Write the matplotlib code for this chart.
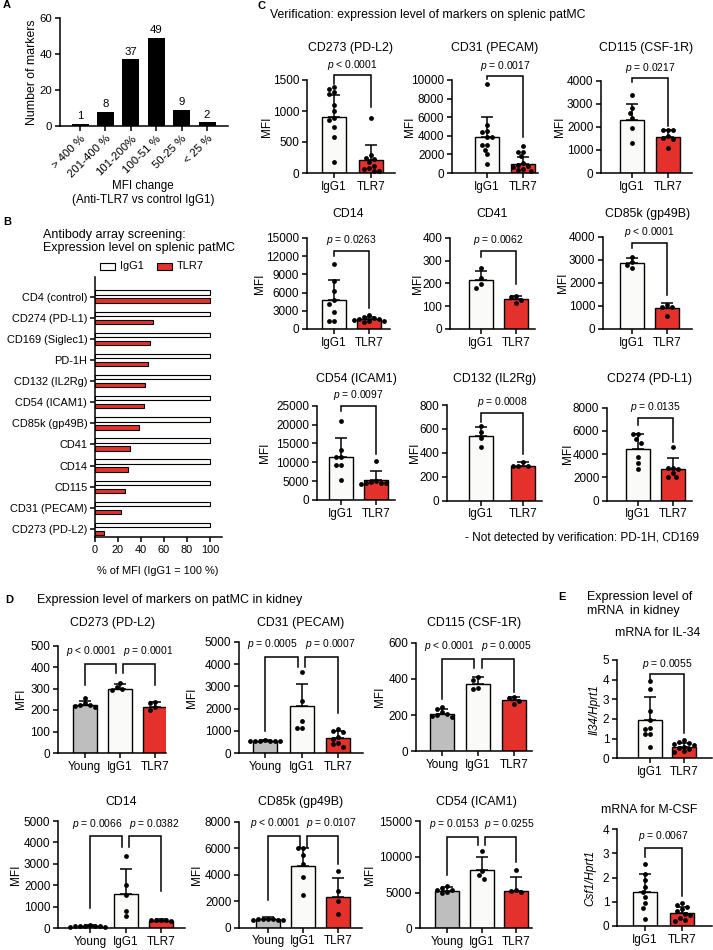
import numpy as np
import matplotlib
matplotlib.use('Agg')
import matplotlib.pyplot as plt
from matplotlib.patches import Rectangle

plt.rcParams['font.family'] = ['Liberation Sans', 'DejaVu Sans']
plt.rcParams['mathtext.fontset'] = 'custom'
plt.rcParams['mathtext.rm'] = 'Liberation Sans'
plt.rcParams['mathtext.it'] = 'Liberation Sans:italic'
plt.rcParams['axes.linewidth'] = 1.1

# ======================= DATA =======================
# Panel A
A_CATS = ['> 400 %', '201-400 %', '101-200%', '100-51 %', '50-25 %', '< 25 %']
A_COUNTS = [1, 8, 37, 49, 9, 2]

# Panel B
B_MARKERS = ['CD4 (control)', 'CD274 (PD-L1)', 'CD169 (Siglec1)', 'PD-1H', 'CD132 (IL2Rg)',
             'CD54 (ICAM1)', 'CD85k (gp49B)', 'CD41', 'CD14', 'CD115', 'CD31 (PECAM)',
             'CD273 (PD-L2)']
B_IGG1 = [100, 100, 100, 100, 100, 100, 100, 100, 100, 100, 100, 100]
B_TLR7 = [100, 50, 48, 46.5, 43.5, 42.3, 38.6, 30.4, 28.4, 26.4, 22.3, 7.5]

# Panel C (splenic patMC)
C_GROUPS = ['IgG1', 'TLR7']
C_CD273_MEAN = [900, 214]
C_CD273_SD = [359, 241]
C_CD273_IGG1 = [1380, 1350, 1300, 1270, 1100, 1000, 890, 860, 750, 580, 170]
C_CD273_TLR7 = [880, 290, 250, 220, 180, 120, 80, 60, 40, 30]

C_CD31_MEAN = [3820, 1000]
C_CD31_SD = [2250, 714]
C_CD31_IGG1 = [9600, 5200, 4500, 4400, 3900, 3900, 3000, 3000, 2500, 2000, 1000]
C_CD31_TLR7 = [2950, 2300, 2300, 1800, 1100, 900, 700, 600, 400, 300, 200]

C_CD115_MEAN = [2273, 1554]
C_CD115_SD = [720, 317]
C_CD115_IGG1 = [3380, 2800, 2600, 2370, 1940, 1300]
C_CD115_TLR7 = [1850, 1850, 1850, 1600, 1500, 1450, 1080]

C_CD14_MEAN = [4800, 1600]
C_CD14_SD = [3300, 440]
C_CD14_IGG1 = [10700, 7830, 6340, 4800, 4140, 2760, 1320, 1320]
C_CD14_TLR7 = [2300, 2000, 1800, 1700, 1600, 1500, 1400, 1300, 1100]

C_CD41_MEAN = [213, 130]
C_CD41_SD = [39, 16]
C_CD41_IGG1 = [266, 222, 196, 181]
C_CD41_TLR7 = [143, 141, 125, 112]

C_CD85K_MEAN = [2859, 895]
C_CD85K_SD = [202, 231]
C_CD85K_IGG1 = [3130, 2900, 2770, 2640]
C_CD85K_TLR7 = [1050, 970, 970, 580]

C_CD54_MEAN = [11484, 5300]
C_CD54_SD = [4947, 2386]
C_CD54_IGG1 = [21000, 13200, 11500, 11500, 9300, 9300, 5300]
C_CD54_TLR7 = [10300, 5000, 4800, 4600, 4500, 4400, 4300]

C_CD132_MEAN = [541, 293]
C_CD132_SD = [72, 33]
C_CD132_IGG1 = [624, 575, 521, 446]
C_CD132_TLR7 = [320, 290, 288, 286]

C_CD274_MEAN = [4444, 2753]
C_CD274_SD = [1319, 946]
C_CD274_IGG1 = [5700, 5700, 5300, 5000, 3800, 3200, 2700]
C_CD274_TLR7 = [4640, 2840, 2840, 2700, 2400, 2060, 2000]

# Panel D (kidney patMC)
D_GROUPS = ['Young', 'IgG1', 'TLR7']
D_CD273_MEAN = [221, 300, 216]
D_CD273_SD = [19, 23, 20]
D_CD273_PTS = [[255, 232, 225, 222, 218, 215], [325, 305, 298, 292], [238, 232, 213, 200]]

D_CD31_MEAN = [560, 2110, 690]
D_CD31_SD = [40, 990, 330]
D_CD31_PTS = [[580, 560, 555, 550, 545, 540, 535], [3650, 2330, 1450, 1130, 1130],
              [1100, 1000, 950, 750, 650, 450, 400, 300]]

D_CD115_MEAN = [206, 372, 283]
D_CD115_SD = [27, 40, 15]
D_CD115_PTS = [[245, 232, 215, 205, 200, 195, 190], [410, 395, 350, 345], [300, 292, 278, 262]]

D_CD14_MEAN = [110, 1584, 357]
D_CD14_SD = [40, 1164, 62]
D_CD14_PTS = [[140, 130, 120, 110, 100, 90, 80, 75], [3350, 2000, 1550, 800, 550],
              [400, 390, 380, 370, 360]]

D_CD85K_MEAN = [654, 4679, 2314]
D_CD85K_SD = [126, 1359, 1460]
D_CD85K_PTS = [[680, 660, 640, 620, 610, 600, 590], [6050, 6000, 5500, 4800, 3800, 2500],
               [4300, 2800, 2000, 1000]]

D_CD54_MEAN = [5263, 8151, 5215]
D_CD54_SD = [559, 1770, 1915]
D_CD54_PTS = [[5900, 5600, 5400, 5300, 5100, 4900], [10800, 8000, 7400, 6900],
              [8100, 5300, 5200, 5100]]

# Panel E (mRNA in kidney)
E_GROUPS = ['IgG1', 'TLR7']
E_IL34_MEAN = [1.95, 0.55]
E_IL34_SD = [1.15, 0.25]
E_IL34_IGG1 = [3.95, 3.5, 2.4, 1.95, 1.55, 1.5, 1.25, 1.25, 0.55]
E_IL34_TLR7 = [0.93, 0.85, 0.8, 0.75, 0.7, 0.6, 0.5, 0.45, 0.35, 0.3]

E_CSF1_MEAN = [1.41, 0.52]
E_CSF1_SD = [0.76, 0.26]
E_CSF1_IGG1 = [2.55, 2.15, 1.9, 1.6, 1.4, 1.2, 0.95, 0.75, 0.3]
E_CSF1_TLR7 = [0.95, 0.85, 0.78, 0.7, 0.6, 0.5, 0.45, 0.35, 0.25, 0.2]

# p-values
C_P = ['< 0.0001', '= 0.0017', '= 0.0217', '= 0.0263', '= 0.0062', '< 0.0001',
       '= 0.0097', '= 0.0008', '= 0.0135']
D_P = [['< 0.0001', '= 0.0001'], ['= 0.0005', '= 0.0007'], ['< 0.0001', '= 0.0005'],
       ['= 0.0066', '= 0.0382'], ['< 0.0001', '= 0.0107'], ['= 0.0153', '= 0.0255']]
E_P = ['= 0.0055', '= 0.0067']

# ======================= STYLE / LAYOUT =======================
RED = '#E4312B'
GRAY = '#BEBEBE'
WHITE = '#FAFAF8'
W, H = 713, 950
FS_TICK = 8.5
FS_TITLE = 8.9
FS_HEAD = 9.0
FS_P = 7.4

fig = plt.figure(figsize=(W / 100, H / 100), dpi=100)


def ax_px(x0, y0, x1, y1):
    return fig.add_axes([x0 / W, 1 - y1 / H, (x1 - x0) / W, (y1 - y0) / H])


def ftext(x, y, s, **kw):
    kw.setdefault('ha', 'left')
    kw.setdefault('va', 'center')
    fig.text(x / W, 1 - y / H, s, **kw)


def swarm_offsets(vals, ppu, sp, d=5.0):
    vals = np.asarray(vals, float)
    order = np.argsort(-vals, kind='stable')
    placed = []
    offs = np.zeros(len(vals))
    cands = [0.0]
    for k in range(1, 40):
        cands += [-k * d * 0.5, k * d * 0.5]
    for i in order:
        y = vals[i] * ppu
        c = 0.0
        for c in cands:
            if all((c - px) ** 2 + (y - py) ** 2 >= (d * 0.98) ** 2 for px, py in placed):
                break
        placed.append((c, y))
        offs[i] = c / sp
    return offs


def style_axes(ax, fs=FS_TICK):
    for s in ['top', 'right']:
        ax.spines[s].set_visible(False)
    ax.tick_params(direction='out', length=3.5, width=1.1, labelsize=fs, pad=2)


def bar_panel(lay, groups, means, sds, points, colors, ymax, ystep, title, ylabel='MFI',
              title_x=None, yl_italic=False):
    left, c0, cl, right, top, bottom, ylx, ty = lay
    n = len(groups)
    sp = (cl - c0) / (n - 1)
    ax = ax_px(left, top, right, bottom)
    ax.set_xlim(-(c0 - left) / sp, (right - c0) / sp)
    ax.set_ylim(0, ymax)
    x = np.arange(n)
    ax.bar(x, means, width=24 / sp, color=colors, edgecolor='black', linewidth=1.0, zorder=1)
    ppu = (bottom - top) / ymax
    for i in range(n):
        ax.errorbar([x[i]], [means[i]], yerr=[[0], [sds[i]]], fmt='none', ecolor='black',
                    elinewidth=1.1, capsize=4.3, capthick=1.1, zorder=2)
        offs = swarm_offsets(points[i], ppu, sp)
        ax.scatter(x[i] + offs, points[i], s=12, c='black', zorder=4, clip_on=False,
                   linewidths=0)
    ax.set_xticks(x)
    ax.set_xticklabels(groups)
    ax.set_yticks(np.arange(0, ymax + 1e-9, ystep))
    ax.set_yticklabels([f'{v:g}' for v in np.arange(0, ymax + 1e-9, ystep)])
    style_axes(ax)
    ftext(ylx, (top + bottom) / 2, ylabel, rotation=90, ha='center', va='center',
          fontsize=8.5, style='italic' if yl_italic else 'normal')
    tx = (left + right) / 2 if title_x is None else title_x
    ftext(tx, ty, title, ha='center', va='center', fontsize=FS_TITLE)
    return ax


def bracket(ax, x1, x2, top, lb, rb):
    ax.plot([x1, x1, x2, x2], [lb, top, top, rb], color='black', lw=1.1, clip_on=False,
            solid_joinstyle='miter', zorder=5)


def ptext(ax, x, y, s, off=7.5):
    ax.annotate(r'$p$ ' + s, xy=(x, y), xytext=(0, off), textcoords='offset points',
                ha='center', va='center', fontsize=FS_P, annotation_clip=False)


# ======================= PANEL A =======================
axA = ax_px(60, 18, 228, 126)
xa = np.arange(len(A_COUNTS))
sp_a = 25.4
axA.set_xlim(-20 / sp_a, 148 / sp_a)
axA.bar(xa, A_COUNTS, width=17 / sp_a, color='black')
axA.set_ylim(0, 60)
axA.set_yticks([0, 20, 40, 60])
axA.set_xticks(xa)
axA.set_xticklabels(A_CATS, rotation=45, ha='right', rotation_mode='anchor')
style_axes(axA, fs=8.2)
for xi, v in zip(xa, A_COUNTS):
    axA.annotate(str(v), xy=(xi, v), xytext=(0, 2), textcoords='offset points',
                 ha='center', va='bottom', fontsize=8.2)
ftext(32, 72, 'Number of markers', rotation=90, ha='center', fontsize=8.8)
ftext(143, 186, 'MFI change', ha='center', fontsize=8.4)
ftext(143, 200, '(Anti-TLR7 vs control IgG1)', ha='center', fontsize=8.4)

# ======================= PANEL B =======================
axB = ax_px(95, 277, 222, 537)
rows = np.arange(len(B_MARKERS))
axB.barh(rows - 0.19, B_IGG1, height=0.21, color=WHITE, edgecolor='black', linewidth=0.8)
axB.barh(rows + 0.19, B_TLR7, height=0.21, color=RED, edgecolor='black', linewidth=0.8)
axB.set_ylim(11.38, -0.93)
axB.set_xlim(0, 110.4)
axB.set_yticks(rows)
axB.set_yticklabels(B_MARKERS)
axB.set_xticks([0, 20, 40, 60, 80, 100])
style_axes(axB, fs=7.9)
ftext(158, 571, '% of MFI (IgG1 = 100 %)', ha='center', fontsize=7.9)
ftext(43, 235, 'Antibody array screening:', fontsize=FS_HEAD)
ftext(43, 248, 'Expression level on splenic patMC', fontsize=FS_HEAD)
for bx, lab, col in [(100, 'IgG1', WHITE), (157, 'TLR7', RED)]:
    fig.add_artist(Rectangle((bx / W, 1 - 269.5 / H), 15 / W, 7 / H, transform=fig.transFigure,
                             facecolor=col, edgecolor='black', linewidth=0.8))
    ftext(bx + 20, 266, lab, fontsize=7.9)

# ======================= PANEL C =======================
C_LAYOUT = [
    (307, 334, 371, 395, 80, 173, 267, 48),
    (452, 487, 523, 538, 80, 173, 410, 48),
    (601, 632, 668, 692, 80.5, 173, 560, 48),
    (307, 334, 369, 390, 238, 329, 260, 214),
    (450, 481, 516, 535, 237.7, 329, 418, 214),
    (603, 632, 667, 692, 236.7, 329, 563, 214),
    (317, 341, 376, 395, 405.7, 500, 265, 379),
    (447, 481, 523, 542, 405, 500.7, 415, 379),
    (607, 638, 673, 692, 407.7, 500.7, 568, 379),
]
C_SPECS = [
    ('CD273 (PD-L2)', C_CD273_MEAN, C_CD273_SD, [C_CD273_IGG1, C_CD273_TLR7], 1500, 500,
     (1580, 1440, 1060)),
    ('CD31 (PECAM)', C_CD31_MEAN, C_CD31_SD, [C_CD31_IGG1, C_CD31_TLR7], 10000, 2000,
     (10430, 10100, 3870)),
    ('CD115 (CSF-1R)', C_CD115_MEAN, C_CD115_SD, [C_CD115_IGG1, C_CD115_TLR7], 4000, 1000,
     (4110, 3940, 2030)),
    ('CD14', C_CD14_MEAN, C_CD14_SD, [C_CD14_IGG1, C_CD14_TLR7], 15000, 3000,
     (12900, 12100, 3470)),
    ('CD41', C_CD41_MEAN, C_CD41_SD, [C_CD41_IGG1, C_CD41_TLR7], 400, 100,
     (343, 317, 197)),
    ('CD85k (gp49B)', C_CD85K_MEAN, C_CD85K_SD, [C_CD85K_IGG1, C_CD85K_TLR7], 4000, 1000,
     (3740, 3510, 1470)),
    ('CD54 (ICAM1)', C_CD54_MEAN, C_CD54_SD, [C_CD54_IGG1, C_CD54_TLR7], 25000, 5000,
     (25000, 23700, 12150)),
    ('CD132 (IL2Rg)', C_CD132_MEAN, C_CD132_SD, [C_CD132_IGG1, C_CD132_TLR7], 800, 200,
     (736, 660, 390)),
    ('CD274 (PD-L1)', C_CD274_MEAN, C_CD274_SD, [C_CD274_IGG1, C_CD274_TLR7], 8000, 2000,
     (7140, 6510, 5075)),
]
for lay, spec, pv in zip(C_LAYOUT, C_SPECS, C_P):
    title, mn, sd, pts, ymax, ystep, br = spec
    ax = bar_panel(lay, C_GROUPS, mn, sd, pts, [WHITE, RED], ymax, ystep, title)
    bracket(ax, 0, 1, br[0], br[1], br[2])
    ptext(ax, 0.5, br[0], pv)

ftext(257, 6, 'C', fontsize=8, weight='bold')
ftext(270, 15, 'Verification: expression level of markers on splenic patMC', fontsize=8.8)
ftext(465, 538, '- Not detected by verification: PD-1H, CD169', fontsize=8.5)

# ======================= PANEL D =======================
D_LAYOUT = [
    (58, 84.5, 155, 166, 645.5, 753, 21, 623),
    (239, 265, 338, 363, 641.7, 753.3, 192, 623),
    (416, 442, 514, 532, 642.7, 751.2, 380, 623),
    (58, 90, 161, 185, 821, 928.3, 16, 802),
    (239, 268, 338, 362, 821.7, 927.7, 197, 802),
    (420, 447, 516, 532, 821, 928.3, 370, 802),
]
D_SPECS = [
    ('CD273 (PD-L2)', D_CD273_MEAN, D_CD273_SD, D_CD273_PTS, 500, 100, (414, 316, 372, 316)),
    ('CD31 (PECAM)', D_CD31_MEAN, D_CD31_SD, D_CD31_PTS, 5000, 1000, (4330, 1000, 3880, 1800)),
    ('CD115 (CSF-1R)', D_CD115_MEAN, D_CD115_SD, D_CD115_PTS, 600, 200, (511, 288, 462, 326)),
    ('CD14', D_CD14_MEAN, D_CD14_SD, D_CD14_PTS, 5000, 1000, (4300, 960, 3800, 1740)),
    ('CD85k (gp49B)', D_CD85K_MEAN, D_CD85K_SD, D_CD85K_PTS, 8000, 2000,
     (6943, 2100, 6110, 4780)),
    ('CD54 (ICAM1)', D_CD54_MEAN, D_CD54_SD, D_CD54_PTS, 15000, 5000,
     (12800, 7450, 11640, 9300)),
]
for lay, spec, pv in zip(D_LAYOUT, D_SPECS, D_P):
    title, mn, sd, pts, ymax, ystep, br = spec
    ax = bar_panel(lay, D_GROUPS, mn, sd, pts, [GRAY, WHITE, RED], ymax, ystep, title)
    bracket(ax, 0, 0.9, br[0], br[1], br[2])
    bracket(ax, 1.1, 2, br[0], br[2], br[3])
    ptext(ax, 0.2, br[0], pv[0], off=9)
    ptext(ax, 1.8, br[0], pv[1], off=9)

ftext(5, 600, 'D', fontsize=8, weight='bold')
ftext(37, 600, 'Expression level of markers on patMC in kidney', fontsize=FS_HEAD)

# ======================= PANEL E =======================
axE1 = bar_panel((617, 650, 684, 712, 660, 758.3, 595, 633), E_GROUPS, E_IL34_MEAN,
                 E_IL34_SD, [E_IL34_IGG1, E_IL34_TLR7], [WHITE, RED], 5, 1,
                 'mRNA for IL-34', ylabel='Il34/Hprt1', title_x=658, yl_italic=True)
bracket(axE1, 0, 1, 4.28, 3.9, 1.28)
ptext(axE1, 0.5, 4.28, E_P[0])
axE2 = bar_panel((617, 645, 682, 712, 829.3, 926, 590, 810), E_GROUPS, E_CSF1_MEAN,
                 E_CSF1_SD, [E_CSF1_IGG1, E_CSF1_TLR7], [WHITE, RED], 4, 1,
                 'mRNA for M-CSF', ylabel='Csf1/Hprt1', title_x=649, yl_italic=True)
bracket(axE2, 0, 1, 3.22, 2.86, 1.23)
ptext(axE2, 0.5, 3.22, E_P[1], off=9)

ftext(558, 597, 'E', fontsize=8, weight='bold')
ftext(587, 597, 'Expression level of', fontsize=FS_HEAD)
ftext(587, 611, 'mRNA  in kidney', fontsize=FS_HEAD)

ftext(3, 5, 'A', fontsize=8, weight='bold')
ftext(3, 222, 'B', fontsize=8, weight='bold')

fig.savefig('out.png', dpi=100)
